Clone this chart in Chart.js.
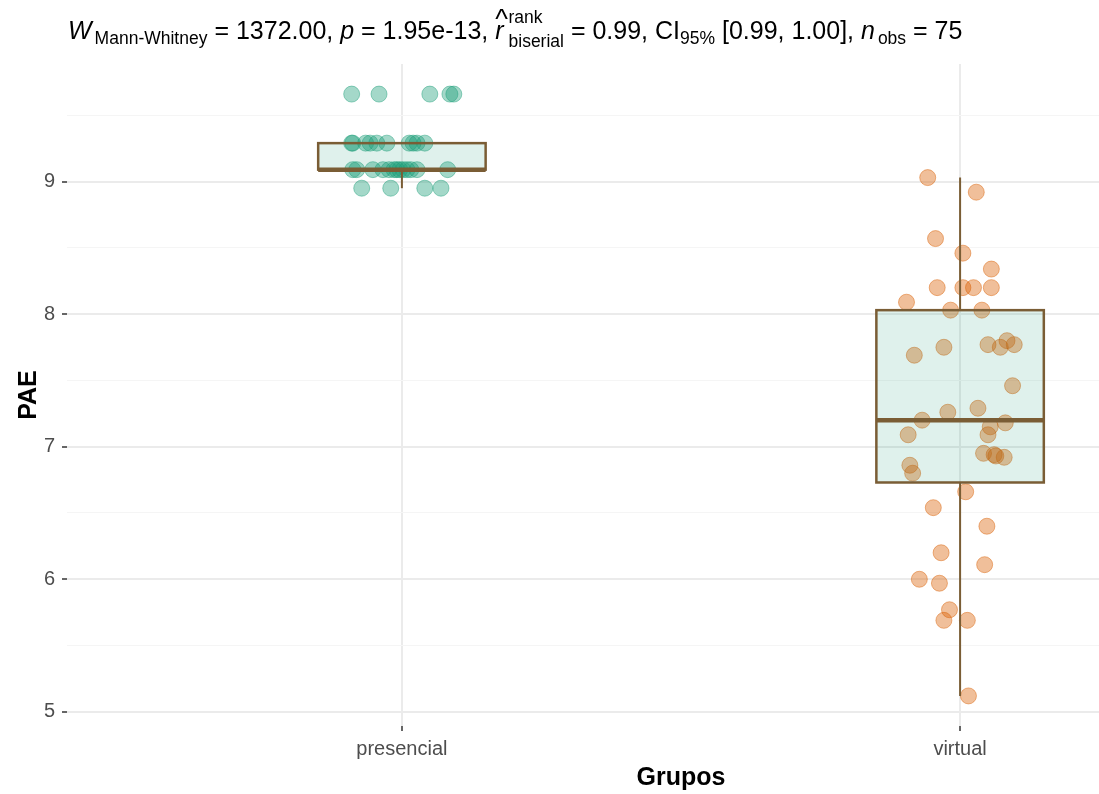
<!DOCTYPE html>
<html>
<head>
<meta charset="utf-8">
<script src="https://cdn.jsdelivr.net/npm/chart.js@4"></script>
<style>
  body { margin: 0; overflow: hidden; background: #fff; }
  #wrap { position: relative; width: 1310px; height: 794px; }
  #subtitle {
    position: absolute; left: 68px; top: 15px;
    font: 25px "Liberation Sans", Arial, sans-serif;
    line-height: 30px; white-space: nowrap; color: #000;
  }
  #subtitle .sub { font-size: 17.5px; position: relative; top: 5px; }
  #subtitle .gap { margin-left: 3px; }
  #subtitle .hatr { display: inline-block; position: relative; }
  #subtitle .hat { position: absolute; left: 0; top: -11px; font-style: normal; font-size: 27px; }
  #subtitle .stack { display: inline-block; position: relative; font-size: 17.5px; margin-left: 5px; }
  #subtitle .stack .hi { position: absolute; left: 0; top: -16px; }
  #subtitle .stack .lo { position: relative; top: 8px; }
</style>
</head>
<body>
<div id="wrap">
  <canvas id="paeChart" width="1310" height="794"></canvas>
  <div id="subtitle"><i>W</i><span class="sub gap">Mann-Whitney</span> = 1372.00, <i>p</i> = 1.95e-13, <span class="hatr"><i>r</i><span class="hat">^</span></span><span class="stack"><span class="hi">rank</span><span class="lo">biserial</span></span> = 0.99, CI<span class="sub">95%</span> [0.99, 1.00], <i>n</i><span class="sub gap">obs</span> = 75</div>
</div>
<script>
const categories = ['presencial', 'virtual'];

// PAE per student, with the jittered horizontal position of each dot
const presencialPAE = [
    9.66, 9.66, 9.66, 9.66, 9.66,
    9.29, 9.29, 9.29, 9.29, 9.29, 9.29, 9.29, 9.29, 9.29, 9.29,
    9.09, 9.09, 9.09, 9.09, 9.09, 9.09, 9.09, 9.09, 9.09, 9.09, 9.09, 9.09, 9.09,
    8.95, 8.95, 8.95, 8.95
];
const presencialX = [
    0.910, 0.959, 1.050, 1.086, 1.093,
    0.910, 0.912, 0.935, 0.943, 0.955, 0.973, 1.013, 1.020, 1.027, 1.041,
    0.912, 0.919, 0.948, 0.966, 0.977, 0.986, 0.991, 0.996, 1.002, 1.009, 1.016, 1.027, 1.082,
    0.928, 0.980, 1.041, 1.070
];
const virtualPAE = [
    9.03, 8.92, 8.57, 8.46, 8.34, 8.20, 8.20, 8.20, 8.20, 8.09, 8.03, 8.03,
    7.69, 7.75, 7.77, 7.75, 7.80, 7.77, 7.46, 7.29, 7.26, 7.20, 7.18, 7.15,
    7.09, 7.09, 6.95, 6.94, 6.93, 6.92, 6.86, 6.80, 6.66, 6.54, 6.40, 6.20,
    6.11, 6.00, 5.97, 5.77, 5.69, 5.69, 5.12
];
const virtualX = [
    1.942, 2.029, 1.956, 2.005, 2.056, 1.959, 2.005, 2.024, 2.056, 1.904, 1.983, 2.039,
    1.918, 1.971, 2.050, 2.072, 2.084, 2.097, 2.094, 2.032, 1.978, 1.932, 2.081, 2.054,
    2.050, 1.907, 2.042, 2.061, 2.064, 2.079, 1.910, 1.915, 2.010, 1.952, 2.048, 1.966,
    2.044, 1.927, 1.963, 1.981, 1.971, 2.013, 2.015
];

const yTicks = [5, 5.5, 6, 6.5, 7, 7.5, 8, 8.5, 9, 9.5];

const groups = [
    { values: presencialPAE, xs: presencialX, color: '27,158,119' },
    { values: virtualPAE, xs: virtualX, color: '217,95,2' }
];

const quantile = (sorted, p) => {
    const h = (sorted.length - 1) * p;
    const lo = Math.floor(h);
    const next = sorted[Math.min(lo + 1, sorted.length - 1)];
    return sorted[lo] + (h - lo) * (next - sorted[lo]);
};

const boxStats = (values) => {
    const s = [...values].sort((a, b) => a - b);
    const q1 = quantile(s, 0.25);
    const med = quantile(s, 0.5);
    const q3 = quantile(s, 0.75);
    const iqr = q3 - q1;
    const lo = Math.min(...s.filter(v => v >= q1 - 1.5 * iqr));
    const hi = Math.max(...s.filter(v => v <= q3 + 1.5 * iqr));
    return { q1, med, q3, lo, hi };
};

// box + whiskers, drawn over the jittered dots
const boxPlugin = {
    id: 'boxes',
    afterDatasetsDraw(chart) {
        const { ctx, scales: { x, y } } = chart;
        const halfWidth = 0.15;
        ctx.save();
        groups.forEach((g, i) => {
            const st = boxStats(g.values);
            const cx = x.getPixelForValue(i + 1);
            const left = x.getPixelForValue(i + 1 - halfWidth);
            const right = x.getPixelForValue(i + 1 + halfWidth);
            ctx.strokeStyle = 'rgb(122,93,53)';
            ctx.lineWidth = 2;
            ctx.beginPath();
            ctx.moveTo(cx, y.getPixelForValue(st.q3));
            ctx.lineTo(cx, y.getPixelForValue(st.hi));
            ctx.moveTo(cx, y.getPixelForValue(st.q1));
            ctx.lineTo(cx, y.getPixelForValue(st.lo));
            ctx.stroke();

            const top = y.getPixelForValue(st.q3);
            const bottom = y.getPixelForValue(st.q1);
            ctx.fillStyle = 'rgba(27,158,119,0.14)';
            ctx.fillRect(left, top, right - left, bottom - top);
            ctx.lineWidth = 2.5;
            ctx.strokeRect(left, top, right - left, bottom - top);

            ctx.lineWidth = 4.5;
            ctx.beginPath();
            ctx.moveTo(left, y.getPixelForValue(st.med));
            ctx.lineTo(right, y.getPixelForValue(st.med));
            ctx.stroke();
        });
        ctx.restore();
    }
};

Chart.defaults.font.family = '"Liberation Sans", Arial, sans-serif';

const ctx = document.getElementById('paeChart').getContext('2d');
new Chart(ctx, {
    type: 'scatter',
    data: {
        datasets: groups.map((g, i) => ({
            label: categories[i],
            data: g.values.map((v, k) => ({ x: g.xs[k], y: v })),
            pointRadius: 8,
            pointHoverRadius: 8,
            backgroundColor: 'rgba(' + g.color + ',0.4)',
            borderColor: 'rgba(' + g.color + ',0.45)',
            borderWidth: 1
        }))
    },
    options: {
        responsive: false,
        animation: false,
        layout: { padding: { top: 64, right: 15, left: 0, bottom: 0 } },
        plugins: {
            legend: { display: false },
            tooltip: { enabled: false }
        },
        scales: {
            x: {
                type: 'linear',
                min: 0.4,
                max: 2.6,
                afterBuildTicks: (scale) => {
                    scale.ticks = categories.map((c, i) => ({ value: i + 1 }));
                },
                afterFit: (scale) => { scale.height = 68; },
                ticks: {
                    callback: (v) => categories[Math.round(v) - 1],
                    font: { size: 20 },
                    color: '#4d4d4d',
                    padding: 6,
                    maxRotation: 0
                },
                grid: {
                    color: '#ebebeb',
                    lineWidth: 2,
                    tickColor: '#333',
                    tickLength: 5,
                    tickWidth: 1.5
                },
                border: { display: false },
                title: {
                    display: true,
                    text: 'Grupos',
                    color: '#000',
                    font: { size: 25, weight: 'bold' },
                    padding: { top: 0, bottom: 1 }
                }
            },
            y: {
                min: 4.893,
                max: 9.887,
                afterBuildTicks: (scale) => {
                    scale.ticks = yTicks.map(v => ({ value: v }));
                },
                afterFit: (scale) => { scale.width = 67; },
                ticks: {
                    callback: (v) => Number.isInteger(v) ? String(v) : '',
                    font: { size: 20 },
                    color: '#4d4d4d',
                    padding: 7
                },
                grid: {
                    color: (c) => Number.isInteger(c.tick.value) ? '#ebebeb' : '#f5f5f5',
                    lineWidth: (c) => Number.isInteger(c.tick.value) ? 2 : 1,
                    tickColor: (c) => Number.isInteger(c.tick.value) ? '#333' : 'rgba(0,0,0,0)',
                    tickLength: 5,
                    tickWidth: 1.5
                },
                border: { display: false },
                title: {
                    display: true,
                    text: 'PAE',
                    color: '#000',
                    font: { size: 25, weight: 'bold' },
                    padding: { top: 14, bottom: 0 }
                }
            }
        }
    },
    plugins: [boxPlugin]
});
</script>
</body>
</html>
